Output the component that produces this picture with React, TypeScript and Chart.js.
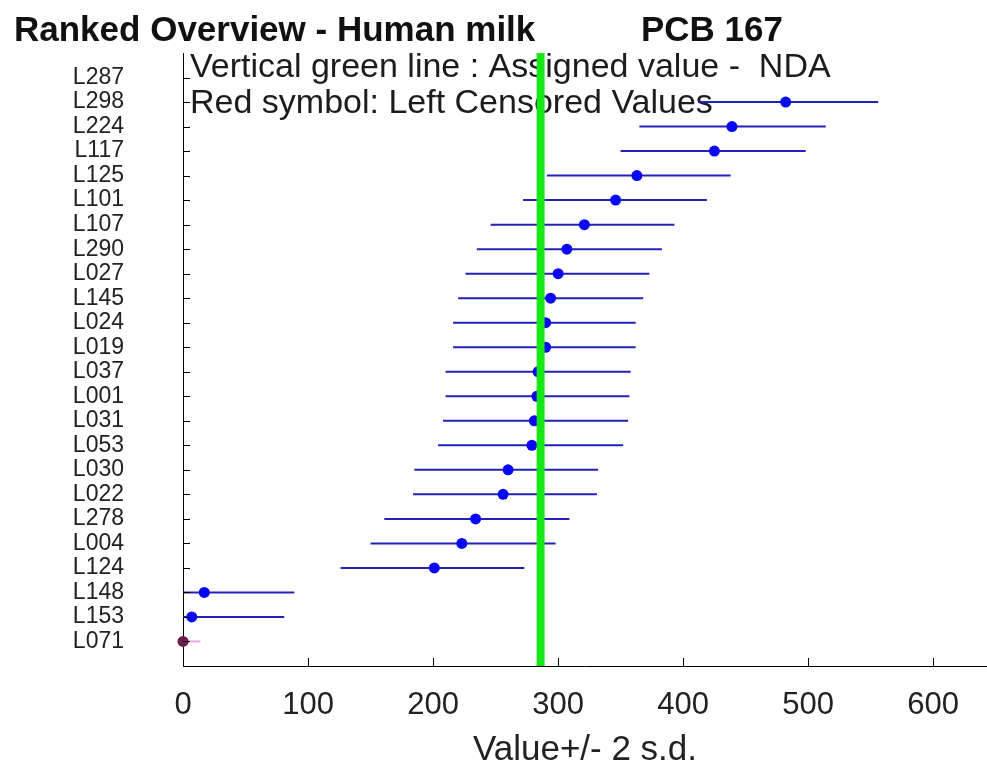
import React, { useEffect, useRef } from 'react';
import { Chart, registerables } from 'chart.js';

Chart.register(...registerables);

const labs = ['L287', 'L298', 'L224', 'L117', 'L125', 'L101', 'L107', 'L290', 'L027', 'L145', 'L024', 'L019', 'L037', 'L001', 'L031', 'L053', 'L030', 'L022', 'L278', 'L004', 'L124', 'L148', 'L153', 'L071'];
const values = [null, 482, 439, 425, 363, 346, 321, 307, 300, 294, 290, 290, 284, 283, 281, 279, 260, 256, 234, 223, 201, 17, 7, 0];
const lows = [null, 412, 365, 350, 291, 272, 246, 235, 226, 220, 216, 216, 210, 210, 208, 204, 185, 184, 161, 150, 126, -56, -67, -10];
const highs = [null, 556, 514, 498, 438, 419, 393, 383, 373, 368, 362, 362, 358, 357, 356, 352, 332, 331, 309, 298, 273, 89, 81, 14];
const censored = ['L071'];
const assignedValue = 286;
const xTicks = [0, 100, 200, 300, 400, 500, 600];
const xMax = 643;
const titleLeft = 'Ranked Overview - Human milk';
const titleRight = 'PCB 167';
const noteLines = ['Vertical green line : Assigned value -  NDA', 'Red symbol: Left Censored Values'];
const xTitle = 'Value+/- 2 s.d.';

const FONT = '"Liberation Sans", Arial, Helvetica, sans-serif';

export default function App() {
  const ref = useRef<HTMLCanvasElement | null>(null);

  useEffect(() => {
    const canvas = ref.current;
    if (!canvas) return;

    const whiskers: any[] = [];
    const censWhiskers: any[] = [];
    const points: any[] = [];
    const pointColors: string[] = [];
    labs.forEach((l, i) => {
      const isC = censored.includes(l);
      if (lows[i] != null && highs[i] != null) {
        const target = isC ? censWhiskers : whiskers;
        target.push({ x: lows[i], y: i + 1 }, { x: highs[i], y: i + 1 }, { x: null, y: null });
      }
      if (values[i] != null) {
        points.push({ x: values[i], y: i + 1 });
        pointColors.push(isC ? '#6a1f4e' : '#0808f2');
      }
    });

    const overlay = {
      id: 'overlay',
      beforeDatasetsDraw(chart: any) {
        const ctx = chart.ctx;
        ctx.save();
        ctx.fillStyle = '#1c1c1c';
        ctx.textBaseline = 'alphabetic';
        ctx.textAlign = 'left';
        ctx.font = `34px ${FONT}`;
        ctx.fillText(noteLines[0], 190, 77);
        ctx.fillText(noteLines[1], 190, 113);
        ctx.restore();
      },
      afterDraw(chart: any) {
        const ctx = chart.ctx;
        const xs = chart.scales.x;
        const ys = chart.scales.y;
        const area = chart.chartArea;
        ctx.save();
        ctx.fillStyle = '#111';
        ctx.textBaseline = 'alphabetic';
        ctx.textAlign = 'left';
        ctx.font = `bold 35px ${FONT}`;
        ctx.fillText(titleLeft, 14, 41);
        ctx.fillText(titleRight, 641, 41);
        ctx.strokeStyle = '#000';
        ctx.lineWidth = 1;
        ys.ticks.forEach((t: any) => {
          const py = Math.round(ys.getPixelForValue(t.value)) + 0.5;
          ctx.beginPath();
          ctx.moveTo(area.left, py);
          ctx.lineTo(area.left + 7, py);
          ctx.stroke();
        });
        xs.ticks.forEach((t: any) => {
          const px = Math.round(xs.getPixelForValue(t.value)) + 0.5;
          ctx.beginPath();
          ctx.moveTo(px, area.bottom);
          ctx.lineTo(px, area.bottom - 8);
          ctx.stroke();
        });
        ctx.restore();
      },
    };

    const chart = new Chart(canvas, {
      type: 'scatter',
      data: {
        datasets: [
          {
            type: 'line',
            label: 'Assigned value',
            data: [{ x: assignedValue, y: 0 }, { x: assignedValue, y: 25 }],
            borderColor: '#17e617',
            borderWidth: 8,
            pointRadius: 0,
            order: 0,
          },
          {
            type: 'scatter',
            label: 'Values',
            data: points,
            pointBackgroundColor: pointColors,
            pointBorderColor: pointColors,
            pointBorderWidth: 0,
            pointRadius: 5.5,
            clip: false,
            order: 1,
          },
          {
            type: 'line',
            label: 'Censored',
            data: censWhiskers,
            borderColor: '#f5a3d6',
            borderWidth: 2,
            pointRadius: 0,
            spanGaps: false,
            order: 2,
          },
          {
            type: 'line',
            label: '+/- 2 s.d.',
            data: whiskers,
            borderColor: '#2222b8',
            borderWidth: 2,
            pointRadius: 0,
            spanGaps: false,
            order: 3,
          },
        ] as any,
      },
      options: {
        responsive: false,
        animation: false,
        devicePixelRatio: 1,
        events: [],
        layout: { autoPadding: false, padding: { top: 53, left: 0, right: 0, bottom: 0 } },
        plugins: {
          legend: { display: false },
          tooltip: { enabled: false },
          title: { display: false },
        },
        scales: {
          x: {
            type: 'linear',
            position: 'bottom',
            min: 0,
            max: xMax,
            afterBuildTicks: (s: any) => {
              s.ticks = xTicks.map((v) => ({ value: v }));
            },
            afterFit: (s: any) => {
              s.height = 106;
              s.paddingLeft = 0;
              s.paddingRight = 0;
              s.paddingTop = 0;
              s.paddingBottom = 0;
            },
            grid: { display: false, drawTicks: false },
            border: { display: true, color: '#000', width: 1 },
            ticks: {
              autoSkip: false,
              maxRotation: 0,
              padding: 21,
              color: '#222',
              font: { family: FONT, size: 31 },
              callback: (v: any) => String(v),
            },
            title: {
              display: true,
              text: xTitle,
              color: '#222',
              font: { family: FONT, size: 35 },
              padding: { top: 0, bottom: 1 },
            },
          },
          y: {
            type: 'linear',
            min: 0,
            max: 25,
            reverse: true,
            afterBuildTicks: (s: any) => {
              s.ticks = labs.map((_, i) => ({ value: i + 1 }));
            },
            afterFit: (s: any) => {
              s.width = 183;
              s.paddingLeft = 0;
              s.paddingRight = 0;
              s.paddingTop = 0;
              s.paddingBottom = 0;
            },
            grid: { display: false, drawTicks: false },
            border: { display: true, color: '#000', width: 1 },
            ticks: {
              autoSkip: false,
              padding: 59,
              color: '#222',
              font: { family: FONT, size: 23 },
              callback: (_v: any, idx: number) => labs[idx] ?? '',
            },
          },
        },
      } as any,
      plugins: [overlay],
    });

    return () => chart.destroy();
  }, []);

  return (
    <div style={{ position: 'absolute', left: 0, top: 0, width: 987, height: 772, background: '#fff' }}>
      <canvas ref={ref} width={987} height={772} style={{ display: 'block' }} />
    </div>
  );
}
